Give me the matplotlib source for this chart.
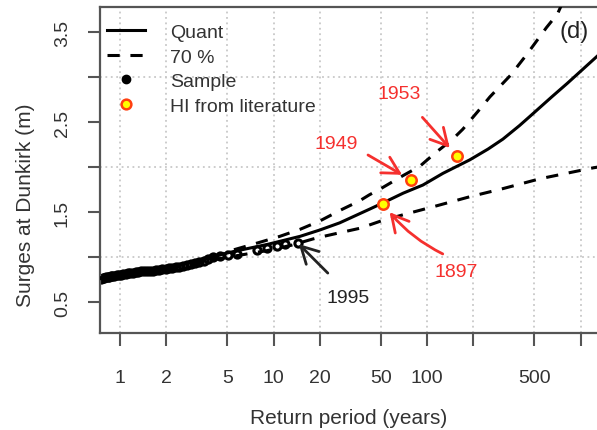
import matplotlib
matplotlib.use('Agg')
import matplotlib.pyplot as plt
from matplotlib.lines import Line2D
from matplotlib.ticker import NullLocator

plt.rcParams['font.family'] = ['Liberation Sans', 'DejaVu Sans']

# empirical sample (return period in years, surge in m)
sample_period = [0.75, 0.77, 0.79, 0.81, 0.83, 0.85, 0.87, 0.89, 0.92, 0.95, 0.98,
                 1.01, 1.05, 1.09, 1.13, 1.17, 1.22, 1.27, 1.32, 1.38, 1.44, 1.50,
                 1.57, 1.64, 1.72, 1.80, 1.89, 1.98, 2.08, 2.19, 2.31, 2.44, 2.58,
                 2.73, 2.90, 3.08, 3.28, 3.50, 3.75, 4.03, 4.48, 5.05, 5.78, 7.8,
                 9.08, 10.5, 11.9, 14.4]
sample_surge = [0.76, 0.77, 0.77, 0.78, 0.78, 0.78, 0.79, 0.79, 0.79, 0.80, 0.80,
                0.80, 0.81, 0.81, 0.82, 0.82, 0.82, 0.83, 0.83, 0.84, 0.84, 0.84,
                0.85, 0.85, 0.86, 0.86, 0.87, 0.87, 0.88, 0.88, 0.89, 0.89, 0.90,
                0.91, 0.92, 0.93, 0.94, 0.96, 0.98, 1.00, 1.01, 1.02, 1.03, 1.08,
                1.10, 1.12, 1.14, 1.155]

# fitted quantile curve
quant_period = [0.74, 1, 2, 3.3, 5.45, 9.1, 14.9, 20, 27, 42, 50, 70, 94, 127, 190,
                250, 312, 400, 466, 650, 820, 1300]
quant_surge = [0.76, 0.79, 0.87, 0.97, 1.06, 1.14, 1.23, 1.30, 1.38, 1.53, 1.59,
               1.71, 1.80, 1.93, 2.08, 2.20, 2.31, 2.46, 2.56, 2.78, 2.93, 3.24]

# 70 % confidence band
upper_period = [0.74, 1, 2, 3, 4, 5, 8, 11, 15, 20, 28, 36, 42, 50, 69, 90, 112,
                147, 171, 215, 257, 350, 446, 600, 707, 780]
upper_surge = [0.77, 0.79, 0.87, 0.93, 0.99, 1.06, 1.16, 1.23, 1.31, 1.40, 1.53,
               1.62, 1.69, 1.76, 1.90, 2.01, 2.15, 2.31, 2.42, 2.62, 2.78, 3.02,
               3.25, 3.55, 3.70, 3.86]
lower_period = [0.74, 1, 2, 3, 4, 6, 9, 13, 18, 20, 27, 36.6, 50, 70, 116, 190,
                312, 545, 1200, 1300]
lower_surge = [0.76, 0.78, 0.86, 0.92, 0.97, 1.02, 1.07, 1.13, 1.20, 1.22, 1.27,
               1.32, 1.40, 1.47, 1.57, 1.67, 1.76, 1.87, 1.99, 2.00]

# historical information
hi_years = ['1897', '1949', '1953']
hi_period = [51.7, 78.7, 157]
hi_surge = [1.59, 1.856, 2.12]

x_ticks = [1, 2, 5, 10, 20, 50, 100, 200, 500, 1000]
x_labels = ['1', '2', '5', '10', '20', '50', '100', '', '500', '']
y_ticks = [0.5, 1, 1.5, 2, 2.5, 3, 3.5]
y_labels = ['0.5', '', '1.5', '', '2.5', '', '3.5']

RED = '#f5302e'
AX_COL = '#555555'

fig = plt.figure(figsize=(5.97, 4.31), dpi=100)
ax = fig.add_axes([100 / 597, 97 / 431, 497 / 597, 326 / 431])
ax.set_xscale('log')
ax.set_xlim(0.741, 1280)
ax.set_ylim(0.156, 3.778)

# dotted grid
for xt in x_ticks:
    ax.axvline(xt, color='#c8c8c8', ls=(0, (1, 2)), lw=1.3, zorder=0)
for yt in [1, 2, 3]:
    ax.axhline(yt, color='#c8c8c8', ls=(0, (1, 2)), lw=1.3, zorder=0)

ax.plot(sample_period, sample_surge, ls='none', marker='o', ms=5.2, mfc='none',
        mec='black', mew=2.2, zorder=2)
ax.plot(quant_period, quant_surge, color='black', lw=2.2, zorder=3)
ax.plot(upper_period, upper_surge, color='black', lw=2.2, ls=(0, (4, 3.5)), zorder=3)
ax.plot(lower_period, lower_surge, color='black', lw=2.2, ls=(0, (4, 3.5)), zorder=3)
ax.plot(hi_period, hi_surge, ls='none', marker='o', ms=7.5, mfc='#ffff00',
        mec='#ff4010', mew=1.8, zorder=4)

# year labels with arrows (offsets in points from the marked value)
arrow_tail = {'1897': (43, -36), '1949': (-31, 18), '1953': (-25, 28)}
text_off = {'1897': (53, -49), '1949': (-54, 26), '1953': (-42, 45)}
arrow_gap = {'1897': 7.6, '1949': 7.4, '1953': 8}
arrow_bend = {'1897': 'arc3,rad=-0.12', '1949': 'arc3', '1953': 'arc3'}

for yr, t, s in zip(hi_years, hi_period, hi_surge):
    ax.annotate('', xy=(t, s), xytext=arrow_tail[yr], textcoords='offset points',
                arrowprops=dict(arrowstyle='->,head_length=1.2,head_width=0.65',
                                color=RED, lw=2, shrinkA=0, shrinkB=arrow_gap[yr],
                                connectionstyle=arrow_bend[yr]), zorder=5)
    ax.annotate(yr, xy=(t, s), xytext=text_off[yr], textcoords='offset points',
                ha='center', va='center', color=RED, fontsize=14)

# largest sample value
ax.annotate('', xy=(sample_period[-1], sample_surge[-1]), xytext=(21.6, -21.6),
            textcoords='offset points',
            arrowprops=dict(arrowstyle='->,head_length=1.2,head_width=0.65',
                            color='#222222', lw=2, shrinkA=0, shrinkB=1), zorder=5)
ax.annotate('1995', xy=(sample_period[-1], sample_surge[-1]), xytext=(36, -39),
            textcoords='offset points', ha='center', va='center',
            color='#222222', fontsize=14)

ax.text(0.953, 0.926, '(d)', transform=ax.transAxes, ha='center', va='center',
        fontsize=17, color='#222222')

ax.xaxis.set_minor_locator(NullLocator())
ax.set_xticks(x_ticks)
ax.set_xticklabels(x_labels)
ax.set_yticks(y_ticks)
ax.set_yticklabels(y_labels, rotation=90, va='center')
ax.tick_params(axis='both', direction='out', length=9, width=1.5, color=AX_COL,
               labelcolor='#333333', labelsize=14)
ax.tick_params(axis='x', pad=17)
ax.tick_params(axis='y', pad=12)

for side in ['top', 'left', 'bottom']:
    ax.spines[side].set_color(AX_COL)
    ax.spines[side].set_linewidth(1.6)
ax.spines['right'].set_visible(False)

ax.set_xlabel('Return period (years)', fontsize=15, color='#333333', labelpad=16)
ax.set_ylabel('Surges at Dunkirk (m)', fontsize=15, color='#333333')
ax.yaxis.set_label_coords(-0.13, 0.395)

handles = [
    Line2D([], [], color='black', lw=2.2, label='Quant'),
    Line2D([], [], color='black', lw=2.2, ls=(0, (4, 3.5)), label='70 %'),
    Line2D([], [], ls='none', marker='o', color='black', ms=6, label='Sample'),
    Line2D([], [], ls='none', marker='o', mfc='#ffff00', mec='#ff4010', mew=1.8,
           ms=7, label='HI from literature'),
]
leg = ax.legend(handles=handles, loc='upper left', bbox_to_anchor=(7 / 497, 0.95),
                frameon=False, borderaxespad=0, borderpad=0, fontsize=14,
                handlelength=1.96, handletextpad=1.29, labelspacing=0.36)
for txt in leg.get_texts():
    txt.set_color('#333333')

fig.savefig('out.png', dpi=100)
